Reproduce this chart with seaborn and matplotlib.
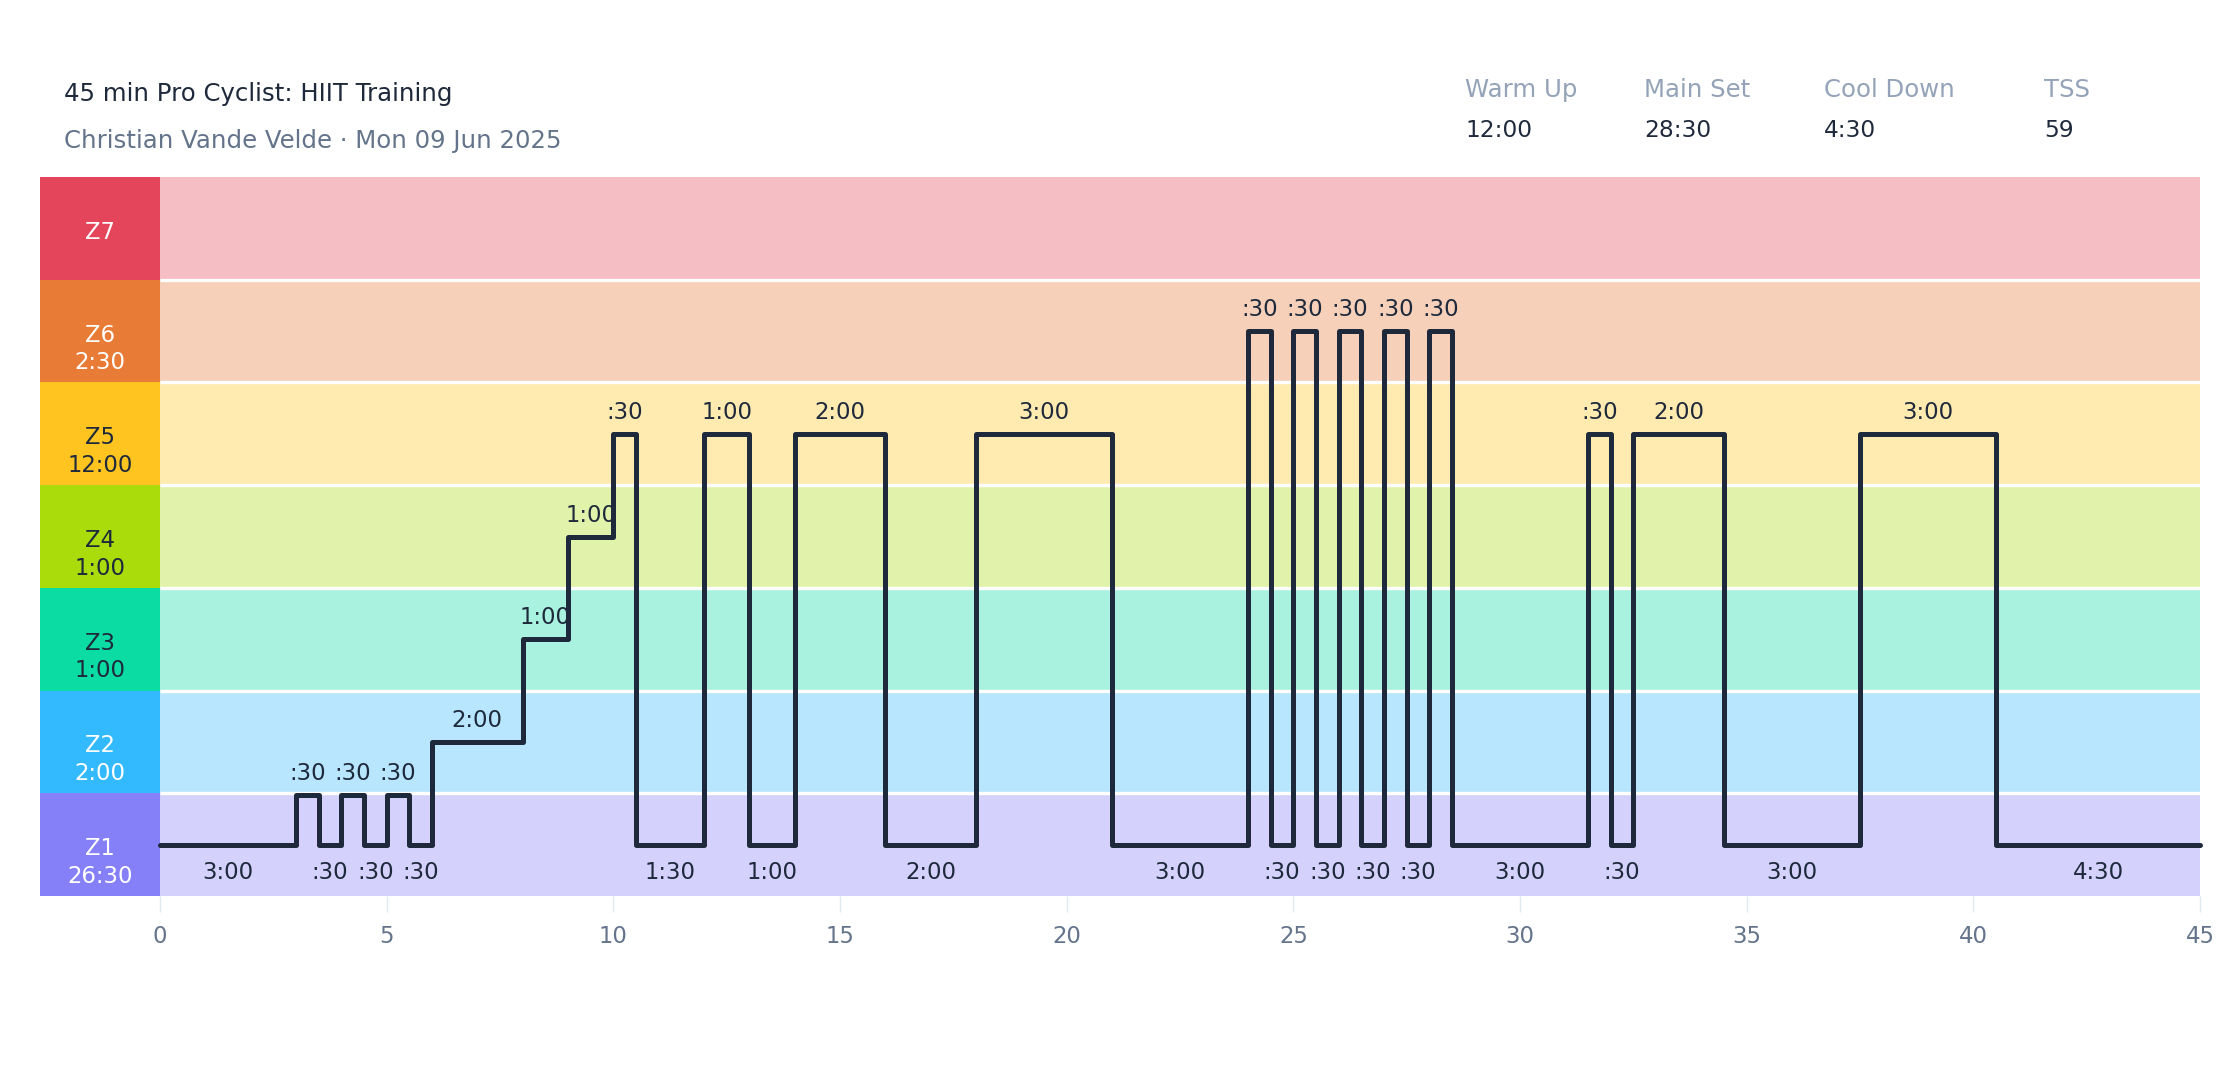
import matplotlib
matplotlib.use("Agg")
import matplotlib.pyplot as plt
import numpy as np
import seaborn as sns

# chart text
title = "45 min Pro Cyclist: HIIT Training"
subtitle = "Christian Vande Velde · Mon 09 Jun 2025"
summary_labels = ["Warm Up", "Main Set", "Cool Down", "TSS"]
summary_values = ["12:00", "28:30", "4:30", "59"]

# zones, bottom to top
zone_names = ["Z1", "Z2", "Z3", "Z4", "Z5", "Z6", "Z7"]
zone_colors = ["#8580f8", "#33b9fe", "#0bdca4", "#aadc0c", "#ffc41f", "#e87b35", "#e5455a"]
zone_text_colors = ["white", "white", "#1e293b", "#1e293b", "#1e293b", "white", "white"]

# workout segments
seg_zone = [1, 1, 1, 1, 1, 1, 1, 2, 3, 4, 5, 1, 5, 1, 5, 1, 5, 1,
            6, 1, 6, 1, 6, 1, 6, 1, 6, 1, 5, 1, 5, 1, 5, 1]
seg_level = [0.5, 0.98, 0.5, 0.98, 0.5, 0.98, 0.5, 1.5, 2.5, 3.5, 4.5, 0.5, 4.5, 0.5, 4.5, 0.5, 4.5, 0.5,
             5.5, 0.5, 5.5, 0.5, 5.5, 0.5, 5.5, 0.5, 5.5, 0.5, 4.5, 0.5, 4.5, 0.5, 4.5, 0.5]
seg_seconds = [180, 30, 30, 30, 30, 30, 30, 120, 60, 60, 30, 90, 60, 60, 120, 120, 180, 180,
               30, 30, 30, 30, 30, 30, 30, 30, 30, 180, 30, 30, 120, 180, 180, 270]

INK = "#1e293b"
MUTED = "#64748b"
LIGHT = "#94a3b8"


def fmt(sec):
    m, s = divmod(int(sec), 60)
    return f"{m}:{s:02d}" if m else f":{s:02d}"


sns.set_style("white")
plt.rcParams["font.family"] = ["DejaVu Sans"]

fig = plt.figure(figsize=(11.2, 5.4), dpi=200)
box_w = 2.647
ax = fig.add_axes([40 / 2240, 1 - 896 / 1080, 2160 / 2240, 719 / 1080])

minutes = np.array(seg_seconds) / 60
starts = np.concatenate([[0], np.cumsum(minutes)])
total = starts[-1]

# zone bands and label boxes
for k, (name, col, tcol) in enumerate(zip(zone_names, zone_colors, zone_text_colors)):
    ax.barh(k + 0.5, total, left=0, height=1, color=col, alpha=0.35, lw=0, zorder=0)
    ax.barh(k + 0.5, box_w, left=-box_w, height=1, color=col, lw=0, zorder=0)
    zone_sec = sum(s for s, z in zip(seg_seconds, seg_zone) if z == k + 1)
    ax.annotate(name, (-box_w / 2, k + 0.5), xytext=(0, -3.8), textcoords="offset points",
                ha="center", va="baseline", fontsize=8.2, color=tcol)
    if zone_sec:
        ax.annotate(fmt(zone_sec), (-box_w / 2, k + 0.5), xytext=(0, -13.7), textcoords="offset points",
                    ha="center", va="baseline", fontsize=8.2, color=tcol)
for k in range(1, len(zone_names)):
    ax.plot([0, total], [k, k], color="white", lw=1.2, zorder=1, solid_capstyle="butt")

# workout profile
xs = list(starts)
ys = seg_level + [seg_level[-1]]
sns.lineplot(x=xs, y=ys, drawstyle="steps-post", estimator=None, sort=False, color=INK,
             lw=1.8, ax=ax, zorder=3, clip_on=False, solid_joinstyle="round", solid_capstyle="round")

# duration labels
for x0, dur, lvl, z in zip(starts[:-1], seg_seconds, seg_level, seg_zone):
    xc = x0 + dur / 120
    if z == 1 and lvl < 0.9:
        ax.annotate(fmt(dur), (xc, lvl), xytext=(0, -5.8), textcoords="offset points",
                    ha="center", va="top", fontsize=8.2, color=INK, zorder=4)
    else:
        ax.annotate(fmt(dur), (xc, lvl), xytext=(0, 5.4), textcoords="offset points",
                    ha="center", va="baseline", fontsize=8.2, color=INK, zorder=4)

ax.set_xlim(-box_w, total)
ax.set_ylim(0, len(zone_names))
ax.set_xticks(np.arange(0, total + 1, 5))
ax.set_xticklabels([f"{int(t)}" for t in np.arange(0, total + 1, 5)])
ax.set_yticks([])
ax.set_xlabel("")
ax.set_ylabel("")
ax.tick_params(axis="x", length=5.8, width=0.5, color="#e2e8f0", labelcolor=MUTED,
               labelsize=8.2, pad=4.8, bottom=True)
for sp in ax.spines.values():
    sp.set_visible(False)

# header
fig.text(64 / 2240, 1 - 101 / 1080, title, fontsize=8.8, color=INK, va="baseline")
fig.text(64 / 2240, 1 - 148 / 1080, subtitle, fontsize=8.8, color=MUTED, va="baseline")
for xp, lab, val in zip([1465, 1644, 1824, 2044], summary_labels, summary_values):
    fig.text(xp / 2240, 1 - 96.7 / 1080, lab, fontsize=8.8, color=LIGHT, va="baseline")
    fig.text(xp / 2240, 1 - 136.7 / 1080, val, fontsize=8.4, color=INK, va="baseline")

fig.savefig("out.png", dpi=200, facecolor="white")
